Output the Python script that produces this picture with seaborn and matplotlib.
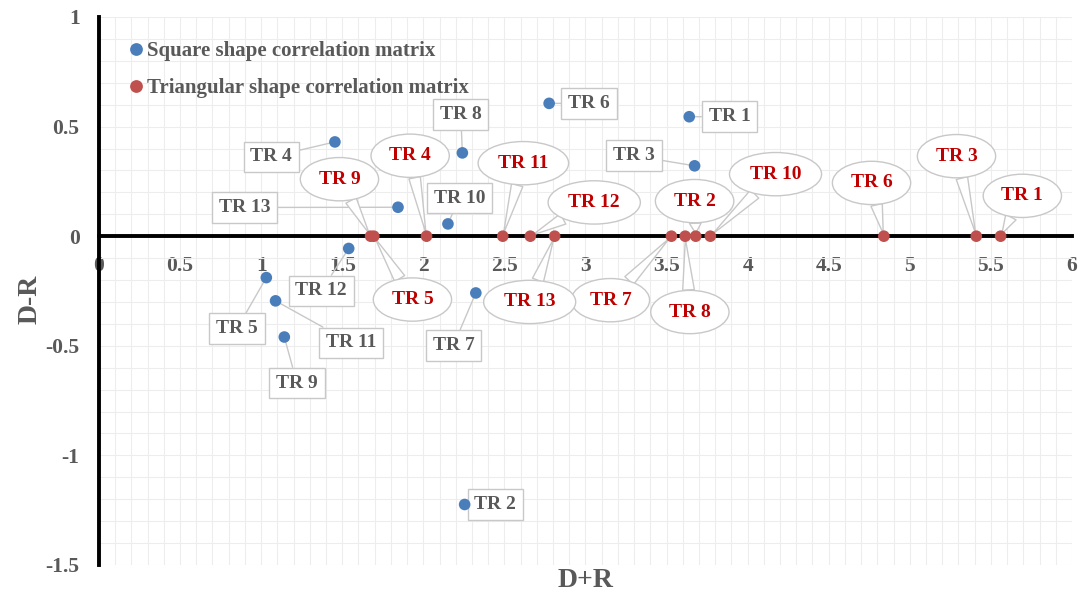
import numpy as np
import pandas as pd
import matplotlib
matplotlib.use("Agg")
import matplotlib.pyplot as plt
import seaborn as sns

# datos
tr_names = ["TR 1", "TR 2", "TR 3", "TR 4", "TR 5", "TR 6", "TR 7",
            "TR 8", "TR 9", "TR 10", "TR 11", "TR 12", "TR 13"]

square_sum = [3.64, 2.255, 3.673, 1.455, 1.032, 2.776, 2.324,
              2.241, 1.143, 2.152, 1.089, 1.54, 1.844]
square_diff = [0.545, -1.224, 0.321, 0.43, -0.189, 0.606, -0.259,
               0.38, -0.46, 0.056, -0.295, -0.056, 0.132]

tri_sum = [5.56, 3.68, 5.41, 2.02, 1.695, 4.84, 3.53,
           3.615, 1.675, 3.77, 2.49, 2.66, 2.81]
tri_diff = [0, 0, 0, 0, 0, 0, 0, 0, 0, 0, 0, 0, 0]

series_names = ["Square shape correlation matrix",
                "Triangular shape correlation matrix"]

# posicion de las etiquetas (centro de la caja)
square_label_pos = [(3.888, 0.545), (2.444, -1.224), (3.299, 0.367), (1.062, 0.362),
                    (0.852, -0.421), (3.022, 0.606), (2.186, -0.498), (2.231, 0.556),
                    (1.221, -0.67), (2.222, 0.174), (1.557, -0.487), (1.370, -0.25),
                    (0.898, 0.131)]
tri_label_pos = [(5.694, 0.184), (3.673, 0.16), (5.288, 0.365), (1.919, 0.367),
                 (1.933, -0.289), (4.764, 0.243), (3.154, -0.292), (3.644, -0.346),
                 (1.483, 0.26), (4.172, 0.283), (2.617, 0.333), (3.054, 0.154),
                 (2.656, -0.30)]

df = pd.DataFrame({
    "D+R": square_sum + tri_sum,
    "D-R": square_diff + tri_diff,
    "name": tr_names + tr_names,
    "serie": [series_names[0]] * len(tr_names) + [series_names[1]] * len(tr_names),
})

sns.set_theme(style="white")
plt.rcParams["font.family"] = ["Liberation Serif", "DejaVu Serif"]
plt.rcParams["font.weight"] = "bold"

fig = plt.figure(figsize=(10.78, 5.98), dpi=100)
ax = fig.add_axes([0.0918, 0.0552, 0.9026, 0.9164])

colores = {series_names[0]: "#4a7ebb", series_names[1]: "#c0504d"}
sns.scatterplot(data=df, x="D+R", y="D-R", hue="serie", palette=colores,
                s=70, edgecolor="none", ax=ax, zorder=5)

ax.set_xlim(0, 6)
ax.set_ylim(-1.5, 1)
ax.set_xticks(np.arange(0, 6.01, 0.5))
ax.set_xticklabels(["0", "0.5", "1", "1.5", "2", "2.5", "3", "3.5", "4", "4.5", "5", "5.5", "6"])
ax.set_yticks(np.arange(-1.5, 1.01, 0.5))
ax.set_yticklabels(["-1.5", "-1", "-0.5", "0", "0.5", "1"])
ax.set_xticks(np.arange(0, 6.01, 0.1), minor=True)
ax.set_yticks(np.arange(-1.5, 1.01, 0.1), minor=True)
ax.grid(which="both", color="#ededed", lw=0.8)
ax.set_axisbelow(True)

for s in ["top", "right"]:
    ax.spines[s].set_visible(False)
ax.spines["bottom"].set_position(("data", 0))
ax.spines["left"].set_linewidth(2.8)
ax.spines["bottom"].set_linewidth(2.8)
ax.spines["left"].set_color("black")
ax.spines["bottom"].set_color("black")

ax.tick_params(which="major", direction="out", length=5, width=2.5, color="black",
               labelsize=15.5, labelcolor="#595959")
ax.tick_params(axis="x", which="major", pad=9)
ax.tick_params(axis="y", which="major", pad=9)
ax.tick_params(which="minor", length=0)

ax.set_xlabel("D+R", fontsize=20, color="#595959", fontweight="bold")
ax.set_ylabel("D-R", fontsize=20, color="#595959", fontweight="bold")
ax.xaxis.set_label_coords(0.5, -0.005)
ax.yaxis.set_label_coords(-0.058, 0.484)

# etiquetas de datos
for name, x, y, pos in zip(tr_names, square_sum, square_diff, square_label_pos):
    ax.annotate(name, xy=(x, y), xytext=pos, ha="center", va="center",
                fontsize=14, color="#595959", fontweight="bold", zorder=4,
                bbox=dict(boxstyle="square,pad=0.35", fc="white", ec="#c8c8c8", lw=1),
                arrowprops=dict(arrowstyle="-", color="#c8c8c8", lw=1,
                                shrinkA=0, shrinkB=2))

for name, x, y, pos in zip(tr_names, tri_sum, tri_diff, tri_label_pos):
    ax.annotate(name, xy=(x, y), xytext=pos, ha="center", va="center",
                fontsize=14, color="#c00000", fontweight="bold", zorder=4,
                bbox=dict(boxstyle="ellipse,pad=0.35", fc="white", ec="#c8c8c8", lw=1),
                arrowprops=dict(arrowstyle="wedge,tail_width=0.6,shrink_factor=0.5",
                                fc="white", ec="#c8c8c8", lw=1, shrinkA=0, shrinkB=2))

handles, labels = ax.get_legend_handles_labels()
ax.legend(handles, labels, loc="upper left", bbox_to_anchor=(-0.003, 0.99),
          frameon=False, handletextpad=-0.45, labelspacing=0.8,
          prop={"family": "Liberation Serif", "weight": "bold", "size": 15},
          labelcolor="#595959", markerscale=1.1)

plt.savefig("out.png", dpi=100)
